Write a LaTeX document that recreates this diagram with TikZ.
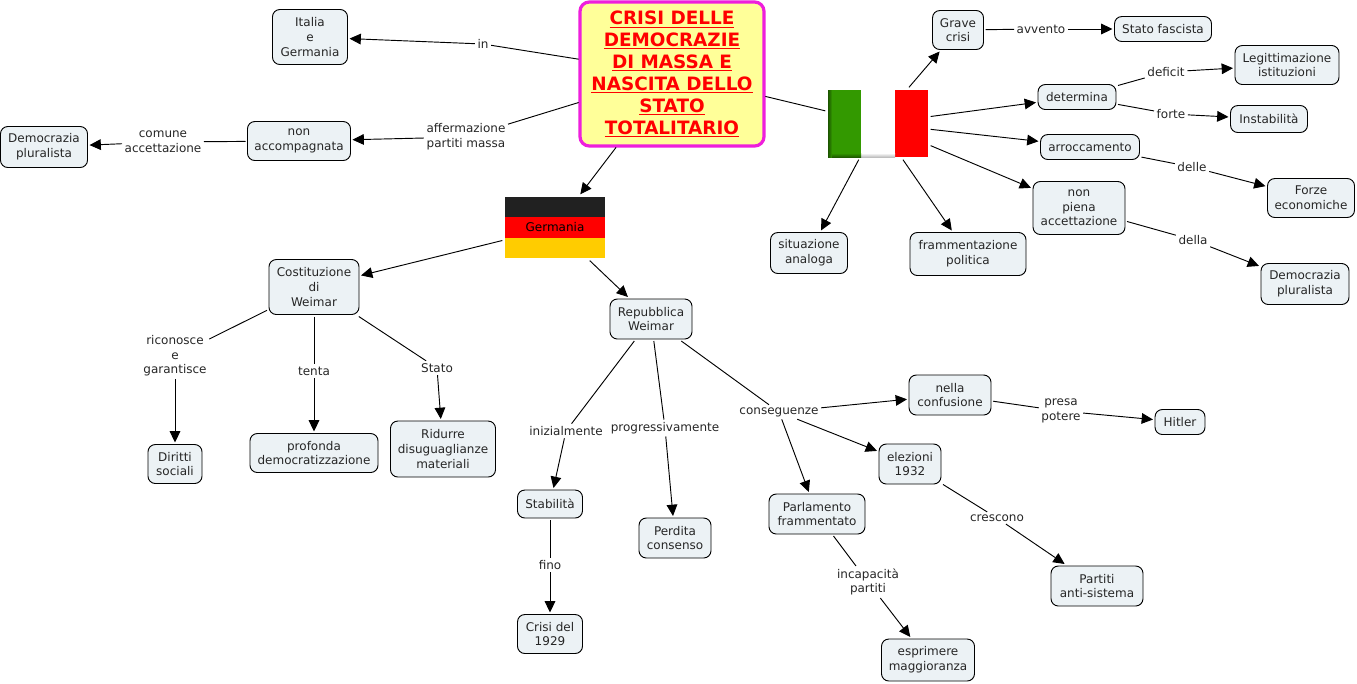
\documentclass[tikz,border=0pt]{standalone}
\usepackage{fontspec}
\setmainfont{DejaVu Sans}
\usetikzlibrary{arrows.meta}
\definecolor{fondo}{HTML}{ECF2F5}
\definecolor{giallo}{HTML}{FFFF99}
\definecolor{viola}{HTML}{EE1FDC}
\definecolor{verde}{HTML}{339900}
\definecolor{oro}{HTML}{FFCC00}
\begin{document}
\begin{tikzpicture}[
    x=0.75pt, y=-0.75pt,
    dim/.style 2 args={minimum width=#1*0.75pt, minimum height=#2*0.75pt},
    concetto/.style={draw, line width=0.7pt, rounded corners=5.5pt, fill=fondo, align=center,
                     inner sep=0pt, outer sep=1.5pt, text=black!85,
                     font=\fontsize{9}{11}\selectfont},
    legame/.style={align=center, inner sep=2pt, outer sep=0pt, text=black!85,
                   font=\fontsize{9}{11}\selectfont},
    titolo/.style={draw=viola, line width=2.4pt, rounded corners=7pt, fill=giallo, align=center,
                   inner sep=0pt, outer sep=1pt, text=red,
                   font=\fontsize{13.8}{16.4}\selectfont\bfseries},
    bandiera/.style={inner sep=0pt, outer sep=2pt, font=\fontsize{9}{11}\selectfont},
    filo/.style={line width=0.7pt},
    freccia/.style={line width=0.7pt, -{Triangle[length=8.5pt, width=8pt]}}
]
    \useasboundingbox (0,0) rectangle (1357,683);

    % bandiere
    \fill[black!87] (505,197) rectangle (605,217);
    \fill[red] (505,217) rectangle (605,237.5);
    \fill[oro] (505,237.5) rectangle (605,258);
    \fill[verde] (828,90) rectangle (861,157);
    \fill[white] (861,90) rectangle (895,157);
    \fill[red] (895,90) rectangle (928,157);
    \shade[left color=verde!55!black, right color=verde] (828,90) rectangle (832,157);
    \shade[top color=white, bottom color=black!25] (861,153) rectangle (895,157);
    \shade[top color=verde, bottom color=verde!60!black] (832,153) rectangle (861,157);

    % concetti
    \node[titolo, dim={184}{144}] (tit) at (672,74) {\underline{CRISI DELLE}\\\underline{DEMOCRAZIE}\\\underline{DI MASSA E}\\\underline{NASCITA DELLO}\\\underline{STATO}\\\underline{TOTALITARIO}};
    \node[concetto, dim={75}{55}] (ige) at (310,37) {Italia\\e\\Germania};
    \node[concetto, dim={103}{39}] (nac) at (299,141) {non\\accompagnata};
    \node[concetto, dim={87}{41}] (dem) at (44,147) {Democrazia\\pluralista};
    \node[bandiera, dim={100}{61}] (ger) at (555,227.5) {Germania};
    \node[bandiera, dim={100}{67}] (ita) at (878,123.5) {};
    \node[concetto, dim={77}{41}] (sit) at (809,253) {situazione\\analoga};
    \node[concetto, dim={116}{43}] (fra) at (968,254) {frammentazione\\politica};
    \node[concetto, dim={51}{39}] (gra) at (958,30) {Grave\\crisi};
    \node[concetto, dim={97}{25}] (fas) at (1163,29) {Stato fascista};
    \node[concetto, dim={104}{39}] (leg) at (1287,65) {Legittimazione\\istituzioni};
    \node[concetto, dim={78}{25}] (det) at (1077,97) {determina};
    \node[concetto, dim={77}{27}] (ins) at (1269,119) {Instabilità};
    \node[concetto, dim={99}{25}] (arr) at (1090,147) {arroccamento};
    \node[concetto, dim={92}{53}] (npa) at (1079,208) {non\\piena\\accettazione};
    \node[concetto, dim={87}{39}] (for) at (1311,198) {Forze\\economiche};
    \node[concetto, dim={88}{41}] (dep) at (1305,284) {Democrazia\\pluralista};
    \node[concetto, dim={90}{55}] (cos) at (314,287) {Costituzione\\di\\Weimar};
    \node[concetto, dim={54}{39}] (dir) at (175,464) {Diritti\\sociali};
    \node[concetto, dim={128}{39}] (pro) at (314,453) {profonda\\democratizzazione};
    \node[concetto, dim={105}{56}] (rid) at (443,449) {Ridurre\\disuguaglianze\\materiali};
    \node[concetto, dim={82}{40}] (rep) at (651,319) {Repubblica\\Weimar};
    \node[concetto, dim={65}{28}] (sta) at (550,504) {Stabilità};
    \node[concetto, dim={65}{39}] (cri) at (550,634) {Crisi del\\1929};
    \node[concetto, dim={72}{40}] (per) at (675,538) {Perdita\\consenso};
    \node[concetto, dim={96}{40}] (par) at (817,514) {Parlamento\\frammentato};
    \node[concetto, dim={82}{40}] (nel) at (950,395) {nella\\confusione};
    \node[concetto, dim={50}{25}] (hit) at (1180,422) {Hitler};
    \node[concetto, dim={62}{40}] (ele) at (910,464) {elezioni\\1932};
    \node[concetto, dim={92}{40}] (pas) at (1097,586) {Partiti\\anti-sistema};
    \node[concetto, dim={93}{42}] (esp) at (928,660) {esprimere\\maggioranza};

    % legami
    \node[legame] (lin) at (483,44) {in};
    \node[legame] (laf) at (466,137) {affermazione\\partiti massa};
    \node[legame] (lco) at (163,142) {comune\\accettazione};
    \node[legame] (lav) at (1041,29) {avvento};
    \node[legame] (lde) at (1166,72) {deficit};
    \node[legame] (lfo) at (1171,114) {forte};
    \node[legame] (ldl) at (1192,167) {delle};
    \node[legame] (ldp) at (1193,240) {della};
    \node[legame] (lri) at (175,356) {riconosce\\e\\garantisce};
    \node[legame] (lte) at (314,371) {tenta};
    \node[legame] (lst) at (437,368) {Stato};
    \node[legame] (lin2) at (566,431) {inizialmente};
    \node[legame] (lpr) at (665,428) {progressivamente};
    \node[legame] (lcn) at (779,412) {conseguenze};
    \node[legame] (lfi) at (550,565) {fino};
    \node[legame] (lic) at (868,582) {incapacità\\partiti};
    \node[legame] (lpo) at (1061,411) {presa\\potere};
    \node[legame] (lcr) at (997,518) {crescono};

    % connessioni
    \draw[filo] (tit) -- (lin);
    \draw[freccia] (lin) -- (ige);
    \draw[filo] (tit) -- (laf);
    \draw[freccia] (laf) -- (nac);
    \draw[filo] (nac) -- (lco);
    \draw[freccia] (lco) -- (dem);
    \draw[freccia] (tit) -- (ger);
    \draw[filo] (tit) -- (ita);
    \draw[freccia] (ita) -- (gra);
    \draw[filo] (gra) -- (lav);
    \draw[freccia] (lav) -- (fas);
    \draw[freccia] (ita) -- (det);
    \draw[filo] (det) -- (lde);
    \draw[freccia] (lde) -- (leg);
    \draw[filo] (det) -- (lfo);
    \draw[freccia] (lfo) -- (ins);
    \draw[freccia] (ita) -- (arr);
    \draw[filo] (arr) -- (ldl);
    \draw[freccia] (ldl) -- (for);
    \draw[freccia] (ita) -- (npa);
    \draw[filo] (npa) -- (ldp);
    \draw[freccia] (ldp) -- (dep);
    \draw[freccia] (ita) -- (sit);
    \draw[freccia] (ita) -- (fra);
    \draw[freccia] (ger) -- (cos);
    \draw[freccia] (ger) -- (rep);
    \draw[filo] (cos) -- (lri);
    \draw[freccia] (lri) -- (dir);
    \draw[filo] (cos) -- (lte);
    \draw[freccia] (lte) -- (pro);
    \draw[filo] (cos) -- (lst);
    \draw[freccia] (lst) -- (rid);
    \draw[filo] (rep) -- (lin2);
    \draw[freccia] (lin2) -- (sta);
    \draw[filo] (sta) -- (lfi);
    \draw[freccia] (lfi) -- (cri);
    \draw[filo] (rep) -- (lpr);
    \draw[freccia] (lpr) -- (per);
    \draw[filo] (rep) -- (lcn);
    \draw[freccia] (lcn) -- (nel);
    \draw[freccia] (lcn) -- (ele);
    \draw[freccia] (lcn) -- (par);
    \draw[filo] (nel) -- (lpo);
    \draw[freccia] (lpo) -- (hit);
    \draw[filo] (ele) -- (lcr);
    \draw[freccia] (lcr) -- (pas);
    \draw[filo] (par) -- (lic);
    \draw[freccia] (lic) -- (esp);
\end{tikzpicture}
\end{document}
